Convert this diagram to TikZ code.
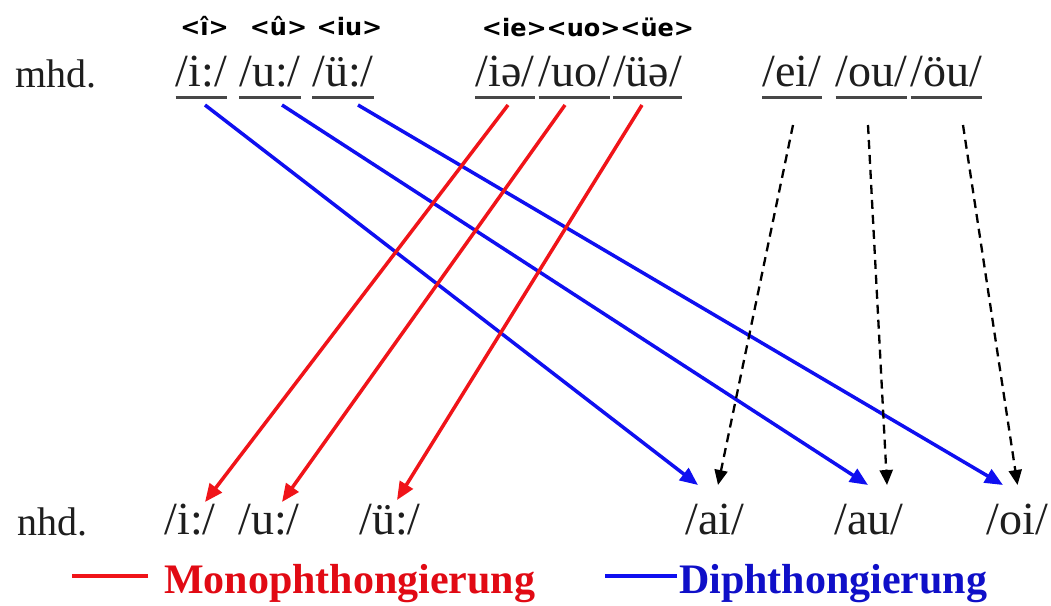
\documentclass[tikz,border=0pt]{standalone}
\usepackage{fontspec}
\setmainfont{Liberation Serif}
\newfontfamily\labfont{DejaVu Sans}
\usetikzlibrary{arrows.meta,calc}
\definecolor{myred}{RGB}{240,20,25}
\definecolor{myblue}{RGB}{15,15,240}
\definecolor{legred}{RGB}{225,10,20}
\definecolor{legblue}{RGB}{15,15,200}
\definecolor{ink}{RGB}{30,30,30}
\begin{document}
\begin{tikzpicture}[x=1pt,y=-1pt,
  phon/.style={inner sep=0pt, anchor=base, font=\fontsize{46}{50}\selectfont, text=ink},
  lvl/.style={inner sep=0pt, anchor=base west, font=\fontsize{40}{44}\selectfont, text=ink},
  graph/.style={inner sep=0pt, anchor=base, font=\labfont\bfseries\fontsize{24}{27}\selectfont},
  uline/.style={line width=3pt, draw=black!72},
  mono/.style={draw=myred, line width=3.5pt, -{Triangle[length=18pt,width=15pt]}},
  diph/.style={draw=myblue, line width=3.5pt, -{Triangle[length=18pt,width=15pt]}},
  kept/.style={draw=black, line width=2.3pt, dash pattern=on 9pt off 6pt, -{Triangle[length=15pt,width=13pt]}},
  leg/.style={inner sep=0pt, anchor=base west, font=\bfseries\fontsize{42}{46}\selectfont},
  legline/.style={line width=4pt},
]
\path[fill=white, use as bounding box] (0,0) rectangle (1051,605);

% graphemes
\node[graph] (gi)  at (204.5,35) {<î>};
\node[graph] (gu)  at (278.5,35) {<û>};
\node[graph] (giu) at (349.5,35) {<iu>};
\node[graph] (gdi) at (588,36) {<ie><uo><üe>};

% level labels
\node[lvl] (mhd) at (15,87) {mhd.};
\node[lvl] (nhd) at (17,535) {nhd.};

% mhd. phonemes
\node[phon] (ti)   at (201.5,86) {/i:/};
\node[phon] (tu)   at (270,86)   {/u:/};
\node[phon] (tue)  at (343,86)   {/ü:/};
\node[phon] (tie)  at (505,86)   {/iə/};
\node[phon] (tuo)  at (574.5,86) {/uo/};
\node[phon] (tuee) at (647.5,86) {/üə/};
\node[phon] (tei)  at (792,86)   {/ei/};
\node[phon] (tou)  at (871.5,86) {/ou/};
\node[phon] (toeu) at (946.5,86) {/öu/};

\foreach \n in {ti,tu,tue,tie,tuo,tuee,tei,tou,toeu}
  \draw[uline] ($(\n.base west)+(0,11)$) -- ($(\n.base east)+(0,11)$);

% nhd. phonemes
\node[phon] (bi)  at (190,534)    {/i:/};
\node[phon] (bu)  at (269,534)    {/u:/};
\node[phon] (bue) at (390,534)    {/ü:/};
\node[phon] (bai) at (715,534)    {/ai/};
\node[phon] (bau) at (869,534)    {/au/};
\node[phon] (boi) at (1017.5,534) {/oi/};

% Diphthongierung
\draw[diph] ($(ti.base)+(3.5,19)$)  -- ($(bai.base)+(-17,-49)$);
\draw[diph] ($(tu.base)+(12,19)$)   -- ($(bau.base)+(-1,-49)$);
\draw[diph] ($(tue.base)+(15,19)$)  -- ($(boi.base)+(-14.5,-49)$);

% Monophthongierung
\draw[mono] ($(tie.base)+(3,19)$)    -- ($(bi.base)+(15,-32)$);
\draw[mono] ($(tuo.base)+(-9.5,19)$) -- ($(bu.base)+(13,-32)$);
\draw[mono] ($(tuee.base)+(-5.5,19)$) -- ($(bue.base)+(7,-34)$);

% unchanged diphthongs
\draw[kept] ($(tei.base)+(1,39)$)     -- ($(bai.base)+(3,-49)$);
\draw[kept] ($(tou.base)+(-3.5,39)$)  -- ($(bau.base)+(18,-49)$);
\draw[kept] ($(toeu.base)+(16.5,39)$) -- ($(boi.base)+(0,-49)$);

% legend
\node[leg, text=legred]  (lmono) at (164,593) {Monophthongierung};
\node[leg, text=legblue] (ldiph) at (679,593) {Diphthongierung};
\draw[legline, draw=myred]  ($(lmono.base west)+(-16,-17)$) -- ++(-76,0);
\draw[legline, draw=myblue] ($(ldiph.base west)+(-2,-17)$) -- ++(-72,0);
\end{tikzpicture}
\end{document}
